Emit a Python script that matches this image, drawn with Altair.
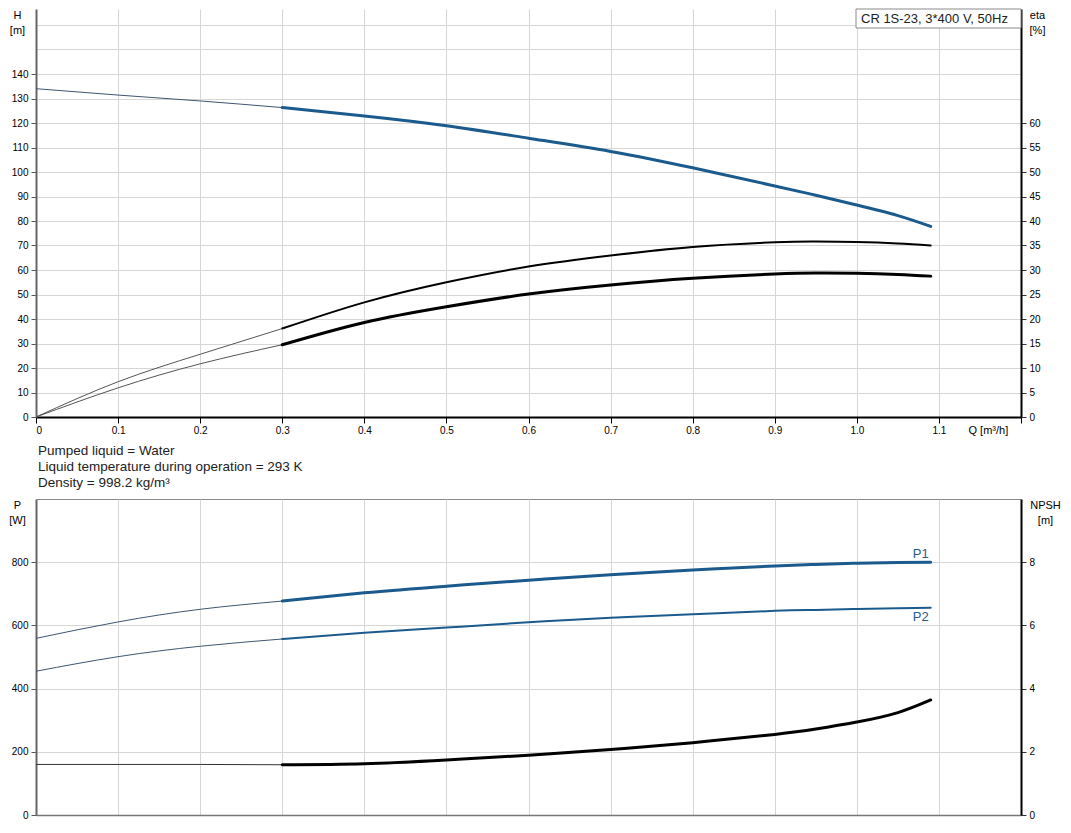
import altair as alt
import pandas as pd

# ---------------- data ----------------
Q = [0.0, 0.1, 0.2, 0.3, 0.4, 0.5, 0.6, 0.7, 0.8, 0.9, 0.95, 1.0, 1.05, 1.09]
H = [134.0, 131.4, 129.0, 126.3, 122.9, 118.9, 113.8, 108.4, 101.7, 94.3, 90.5, 86.5, 82.2, 77.8]
ETA_PUMP = [0.0, 7.2, 12.8, 18.05, 23.4, 27.5, 30.7, 32.95, 34.7, 35.65, 35.8, 35.7, 35.4, 35.0]
ETA_TOTAL = [0.0, 5.95, 10.85, 14.75, 19.3, 22.5, 25.1, 26.95, 28.3, 29.2, 29.4, 29.35, 29.1, 28.75]
P1 = [559, 611, 651, 677, 703, 724, 743, 760, 775, 788, 793, 797, 799, 800]
P2 = [455, 501, 534, 557, 577, 593, 610, 624, 635, 646, 649, 652, 654, 656]
NPSH = [1.6, 1.6, 1.6, 1.59, 1.62, 1.74, 1.89, 2.07, 2.29, 2.55, 2.72, 2.94, 3.24, 3.64]

Q_SPLIT = 0.3   # duty range starts here (thick lines)
Q_TICKS = [round(i * 0.1, 1) for i in range(13)]
H_TICKS = list(range(0, 170, 10))
ETA_TICKS = list(range(0, 65, 5))
P_TICKS = [0, 200, 400, 600, 800]
NPSH_TICKS = [0, 2, 4, 6, 8]

MODEL = "CR 1S-23, 3*400 V, 50Hz"
INFO = "Pumped liquid = Water\nLiquid temperature during operation = 293 K\nDensity = 998.2 kg/m³"

FONT = "Liberation Sans"
BLUE = "#1b5a8d"
THIN_BLUE = "#3f5670"
GRID = "#d6d6d6"

W = 985
H_TOP = 408
H_BOT = 316
PX_PER_H = 2.45
H_MAX = H_TOP / PX_PER_H
ETA_MAX = H_MAX / 2

rows = []
for name, vals in [("H", H), ("eta_pump", ETA_PUMP), ("eta_total", ETA_TOTAL),
                   ("P1", P1), ("P2", P2), ("NPSH", NPSH)]:
    for q, v in zip(Q, vals):
        rows.append({"Q": q, "value": v, "curve": name})
df = pd.DataFrame(rows)

labels_df = pd.DataFrame({
    "Q": [Q[-1], Q[-1]],
    "value": [P1[-1], P2[-1]],
    "label": ["P1", "P2"],
})

# ---------------- axes ----------------
x_top = alt.X(
    "Q:Q",
    scale=alt.Scale(domain=[0, 1.2], nice=False, zero=False),
    axis=alt.Axis(
        values=Q_TICKS,
        labelExpr="datum.value > 1.15 ? '' : (datum.value == 0 ? '0' : format(datum.value, '.1f'))",
        grid=True, gridColor=GRID, gridWidth=1,
        tickSize=6, tickColor="#000", tickWidth=1,
        domainColor="#000", domainWidth=2,
        labelPadding=2,
        title="Q [m³/h]", titleX=932, titleY=7, titleAlign="left",
        titleBaseline="top", titleFontWeight="normal",
    ),
)

x_bot = alt.X(
    "Q:Q",
    scale=alt.Scale(domain=[0, 1.2], nice=False, zero=False),
    axis=alt.Axis(
        values=Q_TICKS, labels=False, ticks=False,
        grid=True, gridColor=GRID, gridWidth=1,
        domainColor="#777", domainWidth=1.5, title=None,
    ),
)

y_h = alt.Y(
    "value:Q",
    scale=alt.Scale(domain=[0, H_MAX], nice=False, zero=False),
    axis=alt.Axis(
        orient="left", values=H_TICKS,
        labelExpr="datum.value > 140 ? '' : datum.label",
        tickOpacity={"condition": {"test": "datum.value <= 140", "value": 1}, "value": 0},
        grid=True, gridColor=GRID, gridWidth=1,
        tickSize=5, tickColor="#555", domainColor="#666", domainWidth=2,
        labelPadding=3,
        title=["H", "[m]"], titleAngle=0, titleAlign="center", titleBaseline="top",
        titleX=-19, titleY=0, titleLineHeight=15, titleFontWeight="normal",
    ),
)

y_eta = alt.Y(
    "value:Q",
    scale=alt.Scale(domain=[0, ETA_MAX], nice=False, zero=False),
    axis=alt.Axis(
        orient="right", values=ETA_TICKS, grid=False,
        tickSize=5, tickColor="#333", domainColor="#000", domainWidth=2,
        labelPadding=3,
        title=["eta", "[%]"], titleAngle=0, titleAlign="center", titleBaseline="top",
        titleX=16, titleY=0, titleLineHeight=15, titleFontWeight="normal",
    ),
)

y_p = alt.Y(
    "value:Q",
    scale=alt.Scale(domain=[0, 1000], nice=False, zero=False),
    axis=alt.Axis(
        orient="left", values=P_TICKS,
        grid=True, gridColor=GRID, gridWidth=1,
        tickSize=5, tickColor="#555", domainColor="#666", domainWidth=2,
        labelPadding=3,
        title=["P", "[W]"], titleAngle=0, titleAlign="center", titleBaseline="top",
        titleX=-19, titleY=0, titleLineHeight=15, titleFontWeight="normal",
    ),
)

y_npsh = alt.Y(
    "value:Q",
    scale=alt.Scale(domain=[0, 10], nice=False, zero=False),
    axis=alt.Axis(
        orient="right", values=NPSH_TICKS, grid=False,
        tickSize=5, tickColor="#333", domainColor="#000", domainWidth=2,
        labelPadding=3,
        title=["NPSH", "[m]"], titleAngle=0, titleAlign="center", titleBaseline="top",
        titleX=24, titleY=0, titleLineHeight=15, titleFontWeight="normal",
    ),
)


def curve(name, x, y, thin_color, thick_color, thick_width):
    base = alt.Chart(df).transform_filter(alt.datum.curve == name)
    thin = base.transform_filter(alt.datum.Q <= Q_SPLIT + 1e-9).mark_line(
        interpolate="natural", color=thin_color, strokeWidth=1
    ).encode(x=x, y=y)
    thick = base.transform_filter(alt.datum.Q >= Q_SPLIT - 1e-9).mark_line(
        interpolate="natural", color=thick_color, strokeWidth=thick_width,
        strokeCap="round"
    ).encode(x=x, y=y)
    return thin, thick


# ---------------- top panel ----------------
h_thin, h_thick = curve("H", x_top, y_h, THIN_BLUE, BLUE, 3)
ep_thin, ep_thick = curve("eta_pump", x_top, y_eta, "#555", "#000", 2)
et_thin, et_thick = curve("eta_total", x_top, y_eta, "#555", "#000", 3)

h_group = alt.layer(h_thin, h_thick)
eta_group = alt.layer(ep_thin, ep_thick, et_thin, et_thick)

box = alt.Chart(pd.DataFrame({"t": [MODEL]})).mark_rect(
    fill="white", stroke="#8a8a8a", strokeWidth=1
).encode(x=alt.value(820), x2=alt.value(W), y=alt.value(0), y2=alt.value(19))

box_text = alt.Chart(pd.DataFrame({"t": [MODEL]})).mark_text(
    align="left", baseline="middle", font=FONT, fontSize=13, color="#222"
).encode(x=alt.value(825), y=alt.value(10), text="t:N")

info = alt.Chart(pd.DataFrame({"t": [INFO]})).mark_text(
    align="left", baseline="alphabetic", lineBreak="\n", lineHeight=16,
    font=FONT, fontSize=13.5, color="#222"
).encode(x=alt.value(2), y=alt.value(446), text="t:N")

top = alt.layer(h_group, eta_group, box, box_text, info).resolve_scale(
    y="independent"
).properties(width=W, height=H_TOP, view=alt.ViewBackground(stroke=None))

# ---------------- bottom panel ----------------
p1_thin, p1_thick = curve("P1", x_bot, y_p, THIN_BLUE, BLUE, 3)
p2_thin, p2_thick = curve("P2", x_bot, y_p, THIN_BLUE, BLUE, 2)
n_thin, n_thick = curve("NPSH", x_bot, y_npsh, "#333", "#000", 3)

p1_label = alt.Chart(labels_df).transform_filter(alt.datum.label == "P1").mark_text(
    align="right", baseline="middle", dx=-2, dy=-8, font=FONT, fontSize=13, color="#2a5a8a"
).encode(x=x_bot, y=y_p, text="label:N")
p2_label = alt.Chart(labels_df).transform_filter(alt.datum.label == "P2").mark_text(
    align="right", baseline="middle", dx=-2, dy=9, font=FONT, fontSize=13, color="#2a5a8a"
).encode(x=x_bot, y=y_p, text="label:N")

p_group = alt.layer(p1_thin, p1_thick, p2_thin, p2_thick, p1_label, p2_label)
n_group = alt.layer(n_thin, n_thick)

bottom = alt.layer(p_group, n_group).resolve_scale(y="independent").properties(
    width=W, height=H_BOT, view=alt.ViewBackground(stroke="#8a8a8a", strokeWidth=1)
)

chart = alt.vconcat(top, bottom, spacing=82, bounds="flush").resolve_scale(
    y="independent"
).properties(padding=0).configure_axis(
    labelFont=FONT, titleFont=FONT, labelFontSize=12.5, titleFontSize=13,
    labelColor="#222", titleColor="#333",
).configure(background="white")

chart.save("out.html", embed_options={"renderer": "svg", "actions": False})
